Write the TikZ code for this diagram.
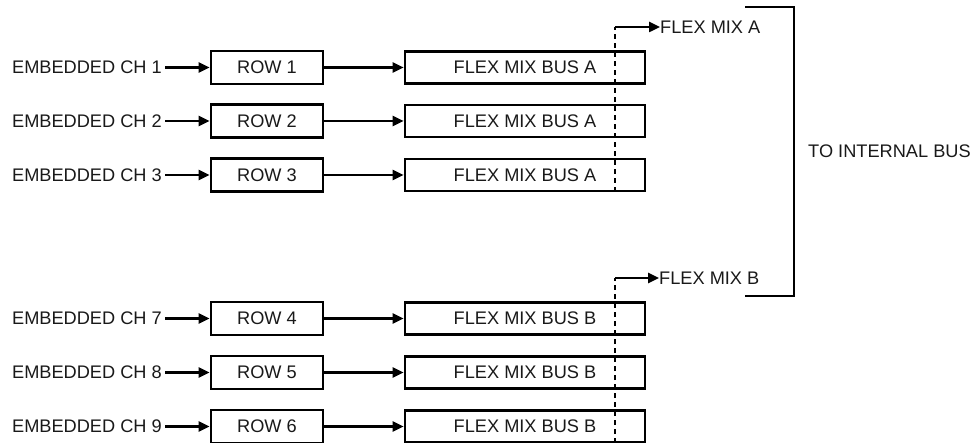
\documentclass[tikz,border=0pt]{standalone}
\usepackage{fontspec}
\setmainfont{Liberation Sans}
\usetikzlibrary{arrows.meta}
\begin{document}
\begin{tikzpicture}[x=1pt,y=-1pt,
  every node/.style={font=\fontsize{18.2}{22}\selectfont, text=black!90},
  lbl/.style={inner sep=0pt},
  rowbox/.style={draw=black, line width=2.6pt, minimum width=112pt, minimum height=33pt, inner sep=0pt},
  busbox/.style={draw=black, line width=2.6pt, minimum width=240pt, minimum height=32pt, inner sep=0pt},
  arr/.style={draw=black, line width=2.4pt, -{Triangle[length=11pt,width=10pt]}},
  dots/.style={draw=black, line width=2.8pt, dash pattern=on 5pt off 4pt},
  brack/.style={draw=black, line width=2.8pt}]
\useasboundingbox (0,0) rectangle (971,443);
\foreach \i/\y/\c/\g in {1/67.5/1/A,2/121/2/A,3/175/3/A,4/318.5/7/B,5/372.5/8/B,6/426.5/9/B}{
  \node[lbl, anchor=east] (ch\i) at (162,\y) {EMBEDDED CH \c};
  \node[rowbox] (row\i) at (267,\y) {ROW \i};
  \node[busbox] (bus\i) at (525,\y) {FLEX MIX BUS \g};
  \draw[arr] ([xshift=3pt]ch\i.east) -- (row\i.west);
  \draw[arr] (row\i.east) -- (bus\i.west);
}
\node[lbl, anchor=west] (mixA) at (660,27) {FLEX MIX A};
\node[lbl, anchor=west] (mixB) at (659,278) {FLEX MIX B};
\coordinate (tA) at (615,27);
\coordinate (bA) at (615,192);
\coordinate (tB) at (615,278);
\coordinate (bB) at (615,443);
\draw[dots] (bA) -- (tA);
\draw[dots] (bB) -- (tB);
\draw[arr] (tA) -- (mixA.west);
\draw[arr] (tB) -- (mixB.west);
\coordinate (k1) at (745,7);
\coordinate (k2) at (794,7);
\coordinate (k3) at (794,296);
\coordinate (k4) at (745,296);
\draw[brack] (k1) -- (k2) -- (k3) -- (k4);
\node[lbl, anchor=west] (intbus) at (808,151) {TO INTERNAL BUS};
\end{tikzpicture}
\end{document}
